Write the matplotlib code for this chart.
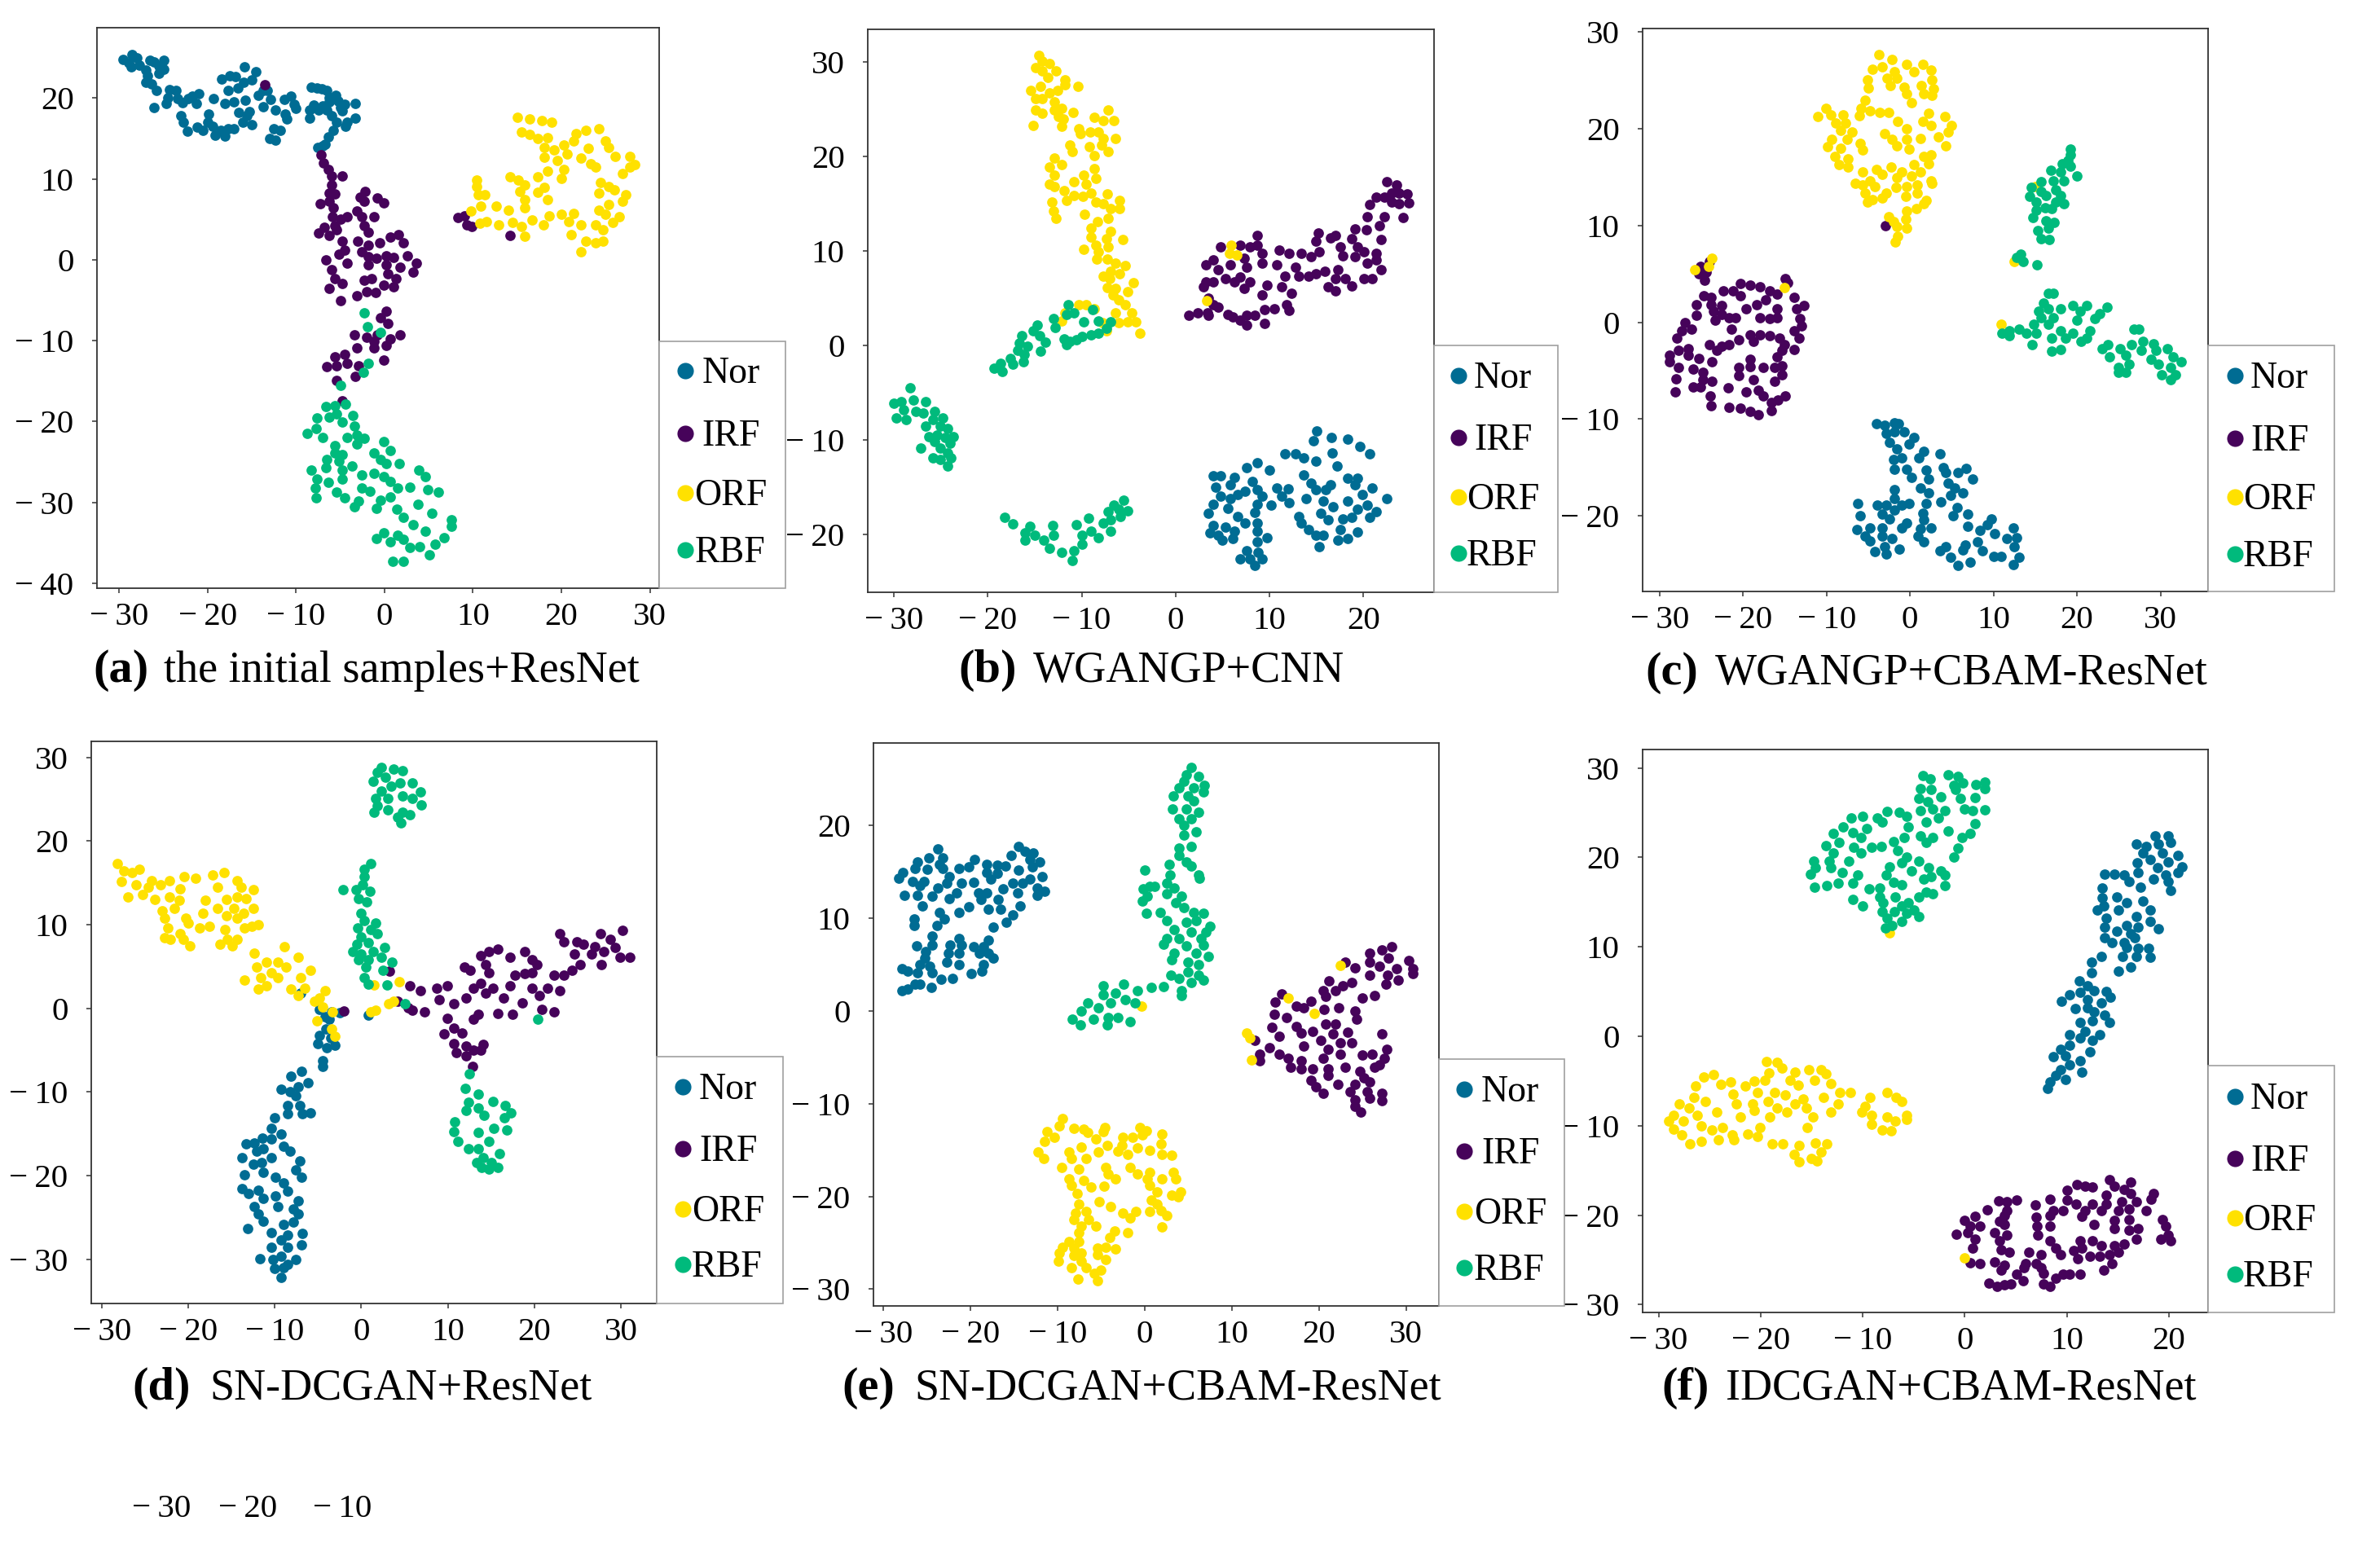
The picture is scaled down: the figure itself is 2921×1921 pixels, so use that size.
import matplotlib
matplotlib.use("Agg")
import matplotlib.pyplot as plt
from matplotlib.patches import Rectangle

plt.rcParams['font.family'] = ['Liberation Serif', 'DejaVu Serif']

W, H = 2921, 1921
class_names = ["Nor", "IRF", "ORF", "RBF"]
class_colors = ["#006c93", "#46035a", "#ffe100", "#00ba7c"]

a_nor = [(-29.5,24.8),(-28.9,24.4),(-28.5,25.4),(-28.0,25.0),(-28.6,23.9),(-27.7,24.1),(-27,23.5),(-26.5,24.7),(-26,24.5),(-25.5,24),(-24.9,24.7),(-25.5,23.1),(-24.9,23.6),(-26.8,22.8),(-27,22),(-26.3,21.8),(-25.8,20.9),(-26,18.8),(-24.5,20),(-24.3,21.1),(-23.6,21),(-23.4,19.9),(-24.7,19.3),(-22.8,19.4),(-22.2,19.9),(-21.7,20.2),(-21,20.5),(-21.3,19.3),(-23,17.8),(-22.7,17),(-22.3,15.9),(-21.2,16.4),(-20.5,16),(-20,17),(-19.9,18),(-19.4,16.5),(-19.1,15.4),(-18.5,16),(-18,15.3),(-17.7,16.2),(-17,16.2),(-19.3,19.9),(-18.4,22.4),(-17.7,21),(-17.5,22.8),(-16.8,22.7),(-16.6,21.3),(-17,19.5),(-18,19.3),(-16.5,18.2),(-15.8,23.9),(-15.9,22),(-15.7,19.7),(-15.5,17.8),(-16,17),(-15,16.7),(-15.3,18.3),(-14.5,23.3),(-15,22.3),(-14.3,20.3),(-13.7,20.9),(-13.2,21),(-12.9,19.8),(-13.7,18.9),(-12.3,18.5),(-12.5,16.2),(-13,15),(-12.3,14.8),(-11.8,16),(-11.2,18),(-11.3,19.8),(-10.6,20.2),(-10.2,19.2),(-10,18.7),(-11,17.4),(-8.3,21.4),(-7.6,21.3),(-7.1,21.2),(-6.5,21),(-6.2,20),(-5.5,20.3),(-5.2,19.6),(-4.5,19.2),(-3.3,19.3),(-5,18.8),(-6.2,19.5),(-6.5,18.5),(-7,19),(-8,19.1),(-8.5,18.5),(-8.5,17.5),(-7.4,18.5),(-6,17.8),(-4.8,18.4),(-4.2,17),(-4.4,16.5),(-3.3,17.5),(-5.4,17),(-5.8,16),(-6.3,15.2),(-6.7,14.3),(-7.5,13.9),(-7,14.1)]
a_irf = [(-7.2,13),(-6.9,12),(-6.3,11.2),(-6,10.4),(-4.8,10.4),(-6,9.3),(-6.2,8.3),(-5.6,8.1),(-7.3,6.9),(-6.2,7.2),(-5.8,6.4),(-5.9,5.3),(-4.2,5.3),(-5,5),(-5.6,4.2),(-6.8,4),(-7.4,3.3),(-6.2,3),(-5.4,3.7),(-2.7,7.7),(-2.2,8.5),(-2.3,7.2),(-3.1,6),(-2.6,5.3),(-1.2,5.3),(-2.3,4.2),(-1.8,3.4),(-3,2.3),(-.8,7.6),(-.1,7),(.7,2.8),(1.6,3.1),(2.1,2.1),(-.5,2.1),(-2.6,1),(-1.8,1.8),(-4.8,2.3),(-4.5,1.2),(-5.1,.7),(-6.6,0),(-4.2,-.4),(-1.8,.4),(-.9,.2),(.2,.5),(1,.3),(-1.8,-.6),(.2,-.6),(1.8,-.9),(2.6,.5),(3.6,-.4),(3.2,-1.5),(-6,-1.2),(-5.6,-2.3),(-4.8,-2.9),(-6.2,-3.5),(-5,-5.1),(-3.1,-4.4),(-2.3,-2.5),(-2,-3.9),(-1,-4),(-1.5,-2.3),(-.1,-3.1),(1,-3.3),(1.3,-2.3),(.4,-1.7),(.2,-6.4),(-.4,-7.2),(.4,-7.9),(-2,-9.6),(-.8,-9.3),(.2,-10.6),(1.8,-9.3),(-3.4,-9.3),(-3.1,-10.9),(-4.5,-11.7),(-5.6,-12),(-6.5,-13.2),(-5.4,-13.1),(-4.2,-12.8),(-2.9,-13.1),(-3.3,-14.4),(-5.4,-14.9),(-4.8,-17.4),(-.1,-12.4),(-1.2,-10.9),(-1.2,-10.1),(.7,-9.8),(-13.5,21.7),(8.3,5.2),(9,5.4),(9.3,4.3),(9.9,4.1),(14.2,3)]
a_orf = [(15,17.6),(16.4,17.4),(17.8,17.2),(18.9,17),(15.5,15.8),(16.4,15.5),(17.3,15),(18.4,15.1),(18.1,13.9),(19.2,13.6),(20.3,14.2),(21.4,14.7),(21.7,15.6),(22.8,16),(24.2,16.2),(25,14.7),(25.3,13.9),(23,13.8),(20.6,13.1),(18.1,12.7),(19.5,12.3),(22.2,12.6),(23.3,11.9),(26.1,12.8),(27.7,12.8),(27.7,11.5),(28.3,11.8),(26.9,10.7),(20.3,11.2),(18.4,11),(20,10.1),(23.9,11.5),(24.4,9.6),(25.3,9.1),(17.3,10.3),(14.2,10.3),(15.1,9.9),(15.9,9.3),(15.3,8.5),(17.3,8.4),(18.1,9),(10.4,9.9),(10.4,9.1),(10.6,8),(11.3,8),(15.9,7.4),(18.4,7.4),(24.2,8.3),(26,8.7),(27.3,8),(26.9,7.2),(25.3,6.8),(10.9,6.6),(12.6,6.6),(14,6.1),(9.8,6),(15.9,6.4),(24.2,6.1),(25,5.6),(26.5,5.3),(18.6,5.4),(20,5.6),(21.4,5.7),(20.8,4.7),(22.2,4.3),(23.9,4.3),(25.8,4.6),(24.7,3.7),(21.1,3.1),(22.8,2.3),(23.9,2.1),(24.7,2.3),(22.2,1),(11.5,4.7),(12.9,4.3),(14.5,4.6),(16.7,4.9),(18,4.3),(15.9,2.9),(10.8,4.5),(15.5,4.1)]
a_rbf = [(-2.3,-6.6),(-1.9,-8.3),(-.4,-9),(-1.8,-12.8),(-2.4,-13.9),(-5,-15.5),(-6.6,-18.2),(-5.6,-18.1),(-4.4,-17.9),(-7.6,-19.6),(-6.2,-19.5),(-5.4,-19.1),(-3.6,-19.3),(-7.7,-20.9),(-8.7,-21.5),(-7,-22),(-4.8,-20.1),(-3.4,-20.6),(-4.2,-22),(-3.1,-21.7),(-2.3,-22.1),(-3.1,-22.8),(-5.6,-23),(-5.6,-23.9),(-4.8,-24.1),(-6.5,-24.7),(-5.1,-24.9),(-3.7,-25.5),(-8.3,-26),(-6.6,-25.7),(-4.8,-26),(-2.6,-26.6),(-1.2,-26.4),(-7.6,-27.1),(-6.3,-27.5),(-4.8,-27.1),(-7.8,-28.2),(-7.7,-29.4),(-5.4,-28.7),(-4.5,-29.4),(-2.6,-28.2),(-1.6,-28.6),(-2.9,-29.8),(-3.4,-30.6),(-.1,-22.5),(.7,-23.6),(-1.2,-23.9),(-.4,-24.7),(.2,-25.2),(1.7,-25.2),(-.1,-26.8),(.7,-27.4),(1.5,-28.2),(2.9,-28.1),(3.9,-26),(4.6,-26.8),(4.9,-28.4),(6.1,-28.7),(-.4,-29.7),(.7,-29.3),(-.9,-30.8),(1.4,-30.9),(3.8,-30.2),(2.1,-31.9),(3.2,-32.8),(5.4,-31.4),(4.6,-33.6),(7.6,-32.2),(7.6,-33),(6.7,-34.4),(5.7,-35.2),(5.1,-36.5),(2.9,-35.6),(4,-35.5),(-.9,-34.5),(-.1,-33.8),(.7,-34.9),(1.5,-34.1),(2.1,-34.6),(.9,-37.3),(2.1,-37.3)]

b_nor = [(15,-9.1),(14.7,-10.1),(16.6,-9.8),(18.3,-9.9),(19.6,-10.7),(20.7,-11.5),(11.6,-11.5),(12.8,-11.5),(13.6,-11.9),(14.9,-12.3),(16.7,-11.4),(17.2,-12.8),(13.6,-13.7),(8.7,-12.4),(7.6,-13),(10,-13.2),(4,-13.8),(4.8,-13.8),(6.3,-14),(8.2,-14.4),(14.4,-14.6),(18.3,-14.1),(19.4,-14.1),(4.3,-15),(5.8,-14.8),(7.4,-15.5),(8.7,-15.3),(10.8,-15.1),(12,-15.2),(14.9,-15.3),(16.5,-14.8),(19.1,-14.8),(20.9,-15.1),(4.8,-16),(6.6,-15.8),(9.2,-16),(11.3,-16),(13.9,-16.2),(16,-15.3),(19.9,-15.8),(22.5,-16.2),(5.8,-16.2),(4,-16.8),(8.7,-16.8),(10.2,-16.9),(12.1,-16.7),(15.7,-16.5),(18.3,-16.5),(20.4,-16.9),(3.5,-17.8),(5.6,-17.3),(6.6,-18.1),(8.4,-17.7),(13.1,-18.1),(15.5,-17.8),(16.8,-17.1),(19.4,-17.4),(21.4,-17.6),(18.8,-18.2),(20.7,-18.2),(4,-19.1),(5.3,-19.3),(7.4,-18.8),(8.7,-18.8),(13.4,-18.8),(16.2,-18.5),(17.8,-18.4),(3.7,-19.9),(4.5,-20.1),(6.3,-19.7),(8.7,-19.7),(14.2,-19.5),(17.5,-19.5),(19.4,-19.8),(5,-20.6),(6.1,-20.5),(9.7,-20.4),(8.7,-20.8),(14.9,-20.1),(15.7,-20.1),(17.3,-20.6),(18.3,-20.5),(15.3,-21.3),(8.8,-21.9),(7.6,-21.8),(6.9,-22.6),(7.9,-22.6),(9.2,-22.6),(8.4,-23.3)]
b_irf = [(22.5,17.3),(23.5,17),(23.8,16.1),(23,16.1),(24.7,16),(21.4,15.7),(22.2,15.7),(20.7,14.9),(23,15.2),(23.8,15),(24.8,15.1),(20.4,13.6),(22.2,13.6),(24.2,13.5),(21.7,12.7),(19.1,12.3),(20.3,12.2),(18.8,11.3),(16.5,11.4),(17,11.6),(15.2,11.9),(14.9,11),(21.9,11.2),(17.5,10.4),(19.4,10.4),(15.3,9.9),(14.4,9.4),(13.4,9.7),(12.1,9.7),(17.8,9.5),(19.1,9.4),(20.1,9.9),(21.4,9.7),(21.4,9),(20.4,8.7),(21.9,8),(8.7,11.6),(8.7,10.6),(4.8,10.4),(6.9,10.6),(7.9,10.4),(11,10.1),(9.2,9.7),(7.3,9.2),(4,9),(3.2,8.5),(5.8,8.5),(7.6,8.3),(9.2,8.7),(10.8,8.5),(4.5,8),(12.8,8.3),(14.2,7.3),(13.1,7.3),(15.9,7.8),(17.3,8),(5.3,7.1),(6.9,7.2),(11.6,7.3),(14.9,7.6),(17,7.1),(18.1,7.1),(20.1,7.1),(20.9,7.1),(3.2,6.7),(4,6.7),(6.3,6.7),(7.9,6.7),(3,6.2),(7.3,6),(9.7,6.4),(16.2,6.2),(18.8,6.3),(11.3,6.2),(12.3,5.5),(17,5.8),(9.2,5.3),(3.5,5),(4,4.3),(4.5,4),(11.8,4.3),(12.1,3.7),(10.5,3.9),(9.5,3.8),(1.4,3.2),(2.4,3.4),(3.4,3.4),(5.6,3.3),(6.1,3),(6.9,2.7),(7.6,3.2),(8.4,3.2),(7.6,2.1),(9.5,2.3),(3.5,3.2)]
b_orf = [(-14.6,30.7),(-14.2,30.1),(-13.4,29.8),(-14.9,29.4),(-14.2,29.1),(-12.7,29.1),(-13.6,28.4),(-11.8,28.1),(-11.8,27.6),(-10.4,27.4),(-14.4,27.4),(-15.4,27),(-13.4,26.7),(-12.6,27),(-14.9,26.1),(-14.2,26.1),(-12.9,25.8),(-14.9,24.9),(-14.2,24.6),(-12.9,24.9),(-12.1,25.1),(-10.9,24.7),(-15.2,23.3),(-12.5,24.2),(-12,24),(-12.1,23.2),(-7.2,24.9),(-8.7,24.1),(-7.7,23.8),(-6.6,23.8),(-10.3,22.9),(-9.1,22.6),(-8.2,22.6),(-10.1,22.4),(-7.7,21.9),(-6.4,21.9),(-11.3,21.2),(-9.2,21),(-7.9,21.2),(-7.2,20.5),(-11,20.5),(-8.7,20.1),(-12.9,19.8),(-12.1,19.1),(-13.4,18.9),(-8.7,18.7),(-9.8,18),(-12.9,18),(-8.5,17.7),(-10.8,17.3),(-9.5,17.1),(-13.4,17.1),(-12.9,16.8),(-11.9,16.4),(-10.8,15.9),(-9.9,15.8),(-9,16.1),(-7.3,16),(-13.2,15.2),(-11.6,15.3),(-8.5,15.2),(-6,15.3),(-7.7,15),(-6.9,14.5),(-6,14.5),(-13,14.2),(-9.7,13.9),(-12.7,13.4),(-7.2,13.4),(-8.3,13.1),(-9,12.4),(-6.9,12.1),(-9,11.5),(-7.4,11.3),(-5.6,11.2),(-8.5,10.6),(-7.2,10.4),(-9.8,10.2),(-8.2,9.9),(-7.3,9.1),(-8.4,9.1),(-6.4,8.7),(-5.4,8.4),(-6.9,7.8),(-6,7.6),(-7.7,7.3),(-7,7.1),(-4.5,6.6),(-7.3,6.1),(-6.4,6),(-5.1,5.7),(-6.7,5.3),(-6.1,4.8),(-5.4,4.3),(-10.3,4.3),(-9.5,4.3),(-8.7,3.9),(-11.8,3.4),(-12.1,2.6),(-6.4,3.4),(-4.7,3.4),(-7.8,2.4),(-6.1,2.4),(-5.1,2.5),(-4.2,2.5),(-3.8,1.3),(-7.4,1.5),(5.9,10.6),(5.7,9.7),(6.5,9.6),(3.3,4.7)]
b_rbf = [(-11.4,4.3),(-8.8,3.8),(-11.6,3.3),(-10.8,3.4),(-9.8,2.5),(-13,2.8),(-6.9,2.5),(-8.2,2.6),(-12.8,1.9),(-14.7,2.1),(-15.2,1.5),(-7.4,1.8),(-8.2,1.3),(-9,1.1),(-16.4,1),(-14.5,1),(-10,.9),(-11.9,.7),(-11.3,.4),(-10.6,.6),(-16.6,.2),(-13.9,.3),(-11.6,.1),(-15.8,-.1),(-14.4,-.6),(-16.8,-.5),(-16.1,-1),(-17.6,-1.4),(-16.2,-1.7),(-18.6,-1.9),(-17.3,-2),(-19.3,-2.4),(-18.5,-2.8),(-28.3,-4.5),(-30,-6.1),(-29.2,-6),(-27.9,-5.8),(-26.6,-6),(-29.7,-7.7),(-28.7,-7.9),(-29,-6.8),(-27.7,-7),(-26.9,-7.2),(-25.7,-7),(-24.8,-7.7),(-26.6,-8.6),(-25.8,-7.9),(-25.1,-8.6),(-24.3,-8.8),(-26.3,-9.7),(-25.4,-9.5),(-23.7,-9.7),(-24.5,-9.8),(-25.7,-10.2),(-24,-10.4),(-27.1,-10.9),(-25.1,-10.9),(-24.3,-11.4),(-25.8,-11.9),(-23.9,-11.9),(-25.1,-12.1),(-24.3,-12.8),(-18.2,-18.2),(-17.3,-18.9),(-15.5,-19.2),(-16,-19.9),(-13.1,-19.1),(-15,-20.1),(-16,-20.6),(-14,-20.6),(-13,-20.1),(-13.4,-21.5),(-12.1,-21.9),(-11,-22.8),(-10.8,-21.8),(-10,-21.1),(-10.6,-19),(-10,-20.1),(-9.3,-18.3),(-9,-19.7),(-8.2,-20.4),(-7.7,-18.8),(-6.9,-18.5),(-6.9,-19.7),(-7.2,-17.6),(-6.6,-16.9),(-5.9,-18.1),(-5.5,-16.4),(-5.1,-17.5),(-6.1,-17.4)]

c_nor = [(-4,-10.5),(-3,-10.6),(-1.9,-10.4),(-1.4,-10.5),(-1.9,-11.3),(-2.8,-11.5),(-.7,-11.3),(.5,-11.9),(-2.5,-12.4),(-.1,-12.6),(-1.6,-13.1),(1.6,-13.3),(3.6,-13.6),(-2,-14.2),(-1,-14),(1.1,-14),(-1.9,-15.2),(-.4,-15.2),(1.9,-15.3),(4,-15),(6.7,-15.1),(.2,-16),(2.2,-16.2),(4.3,-15.5),(5.7,-15.5),(7.5,-16.2),(4.6,-16.6),(1.3,-17.1),(5.4,-17.1),(-1.9,-17.3),(2.2,-17.6),(6.3,-17.6),(4.9,-17.9),(-1.9,-18.2),(1.9,-18.7),(3.7,-18.5),(-6.3,-18.7),(-3.9,-18.9),(-2.8,-18.9),(-.1,-18.7),(-1,-18.9),(5.6,-19.1),(-6,-20),(-3.3,-19.8),(-1.9,-19.4),(1.5,-19.7),(5.2,-20),(6.9,-19.8),(1.6,-20.4),(9.7,-20.3),(-2.5,-20.3),(-.4,-20.7),(6.9,-21.1),(9.3,-20.9),(-6.4,-21.4),(-4.8,-21.2),(-3.3,-21.2),(-1,-21.2),(1.3,-21.3),(2.5,-21.2),(8.4,-21.5),(12.4,-21.2),(-5.4,-22.1),(-3.3,-22.1),(-2.2,-22.3),(1,-22.1),(10.1,-21.8),(11.6,-22.3),(12.8,-22.2),(-4.8,-22.6),(1.6,-22.7),(4.3,-23.2),(6.6,-23),(8.1,-22.7),(-3,-23.2),(-1.3,-23.4),(-4.2,-23.7),(-2.8,-23.9),(3.6,-23.6),(6.3,-23.5),(8.7,-23.6),(12.5,-23.2),(4.9,-24.3),(10,-24.2),(10.9,-24.2),(13.1,-24.3),(7.2,-24.8),(5.7,-25.1),(12.4,-25)]
c_irf = [(-24,6.3),(-25.1,5.8),(-24.4,5.2),(-25.3,5),(-24.6,4.3),(-14.9,4.5),(-14.7,4.1),(-20.3,4),(-19.1,3.8),(-18,3.7),(-22.4,3.2),(-21.2,3.2),(-16.8,3.2),(-15.9,2.9),(-24.7,2.7),(-23.8,2.6),(-13.9,2.6),(-20.3,2.7),(-25.6,1.8),(-23.8,1.8),(-22.6,1.7),(-17.3,2.3),(-18.4,1.8),(-19.6,1.4),(-15.9,1.4),(-13.6,1.4),(-12.7,1.7),(-23.5,1.1),(-25.6,.7),(-22.6,.8),(-21.7,.5),(-20.9,.5),(-18,.5),(-16.8,.4),(-15.9,.5),(-13.2,.4),(-27,0),(-23.3,.2),(-13,-.4),(-26.2,-.7),(-21.4,-.7),(-27.3,-.9),(-13.9,-.9),(-27.9,-1.6),(-19.1,-1.3),(-18,-1.3),(-16.8,-1.4),(-15.6,-1.6),(-13.3,-1.6),(-20.5,-1.8),(-21.7,-2.3),(-24,-2.3),(-22.6,-2.5),(-18.8,-2),(-15,-2.3),(-13.9,-2.8),(-27.7,-2.9),(-26.6,-2.7),(-23.1,-2.9),(-15.3,-2.9),(-28.8,-3.4),(-26.6,-3.4),(-28.8,-4.1),(-25.3,-3.7),(-19.1,-3.8),(-15.9,-3.6),(-23.7,-4.1),(-15.3,-4.5),(-27.7,-4.7),(-26,-4.8),(-20.5,-4.7),(-19.1,-4.6),(-17.6,-4.7),(-16.2,-4.7),(-24.8,-5.2),(-15.3,-5.4),(-28,-5.8),(-24.8,-5.9),(-23.7,-6.1),(-20.5,-5.5),(-18.8,-5.9),(-16.2,-6.1),(-26,-6.7),(-25.1,-6.7),(-21.8,-6.8),(-28.1,-7.2),(-19.6,-7.2),(-18.2,-7),(-14.9,-7.6),(-17.6,-7.6),(-23.9,-7.6),(-15.8,-8),(-23.8,-8.6),(-16.6,-8.3),(-21.7,-8.8),(-20.3,-8.9),(-19.1,-9.2),(-18.2,-9.5),(-16.6,-9.1),(-2.9,10)]
c_orf = [(-3.7,27.6),(-2.2,27.1),(-4.5,26.1),(-3.3,26.4),(-1.9,25.9),(-.4,26.6),(1.5,26.6),(2.5,26),(.5,25.9),(-5.1,25),(-2.7,25.2),(-1.6,25.2),(2.6,25),(-5,24.2),(-2.4,24.4),(-.7,24.3),(1.4,24.4),(2.8,24.1),(-.4,23.6),(1.6,23.6),(2.6,23.4),(.2,22.7),(-5.4,22.9),(-5.9,22.1),(-4.8,21.8),(-3.6,21.7),(-2.6,21.7),(-10.1,22.1),(-11,21.2),(-9.5,21.4),(-8,21.4),(-6.1,21.3),(2.2,21.6),(4.2,21.2),(-8.9,20.6),(-7.7,20.6),(-1.5,20.7),(1.5,20.7),(5,20.3),(-8.3,19.8),(-6.9,19.6),(-3,19.5),(-.4,20),(2.5,20.3),(4.6,19.6),(-9.4,18.9),(-7.5,18.9),(-6,18.5),(-2.2,18.9),(-.4,18.9),(1.3,19),(3.4,19.1),(-9.9,18.1),(-8.3,18),(-5.7,17.8),(-1.6,18.2),(-.1,17.9),(4.3,18.2),(-9,17.1),(-7.4,16.9),(2.5,17.3),(1.6,17.1),(-8.5,16.3),(2.2,16.4),(-7.4,16),(-2.3,16),(.5,16.3),(-5.7,15.5),(-4,15.8),(-1,15.5),(1.3,15.5),(-3.3,15.3),(-6.6,14.3),(-4.8,14.6),(-1.6,14.9),(.2,15.1),(2.5,14.6),(-5.7,14.2),(-4.2,14),(-1.7,13.9),(-.4,14),(.9,14.2),(2.6,14.3),(-5.4,13.3),(-2.8,13.3),(-.5,13),(.9,13.3),(-4.5,12.7),(-3.3,12.8),(1.9,12.6),(-5.1,12.4),(.8,11.7),(1.6,12.2),(-.4,11.5),(-2.6,10.9),(-.5,10.6),(-2,10.4),(-1.6,9.9),(-.4,9.7),(-1.5,8.9),(-1.8,8.3),(-23.7,6.6),(-24.1,5.8),(-25.8,5.4),(-15,3.6),(15,14),(12.5,6.3),(10.9,-.2)]
c_rbf = [(19.2,17.9),(19.2,17.3),(18.9,16.7),(18.2,16.4),(19.2,16.1),(16.9,15.7),(18,15.5),(20,15.1),(17.2,14.6),(18.4,14.6),(15.7,14.5),(14.5,13.9),(17.5,13.7),(15.7,13.5),(14.3,13),(16.3,13.1),(18,13.1),(15.1,12.4),(17.5,12.4),(18.4,12.2),(16.2,11.8),(17,11.7),(15.1,11.6),(14.7,10.8),(16.3,10.5),(17.3,10.3),(15.3,9.5),(16.6,9.7),(15.7,8.6),(16.7,8.5),(13.3,7),(12.8,6.7),(13.6,6.3),(15.2,5.9),(16.6,3),(17.2,3),(16,2),(15.4,1.1),(16.6,1.4),(18,1.4),(19.5,1.7),(21.2,1.7),(23.6,1.6),(22.7,.9),(20.4,1.1),(22.1,.4),(15.7,.5),(17.2,.5),(20,.2),(14.8,-.2),(16.6,-.2),(13.1,-.7),(11.9,-.9),(11,-1.1),(13.9,-1.1),(15.1,-1.1),(18,-.9),(19.5,-1.1),(21.6,-.9),(11.9,-1.4),(17,-1.6),(18.6,-1.6),(21.2,-1.6),(20.5,-2),(14.6,-2.3),(18,-2.8),(17,-3),(26.8,-.7),(27.4,-.7),(23.7,-2.3),(23,-2.7),(25.2,-2.7),(26.5,-2.3),(27.9,-2),(29.2,-2.2),(23.9,-3.6),(25.9,-3.4),(27.7,-2.9),(29.5,-2.9),(30.8,-2.7),(25,-4.7),(26.2,-4.3),(28.9,-3.8),(31.5,-3.6),(32.5,-4.1),(25,-5.2),(25.9,-5.2),(29.8,-4.3),(31.2,-4.7),(30.1,-5.4),(31.8,-5.4),(31.2,-5.9)]

d_nor = [(-3.4,-.4),(-4.8,-.1),(-4.2,-1),(-3.7,-1.3),(-2.5,-.5),(-4.1,-2.5),(-4.8,-3.2),(-3.5,-3.5),(-5,-4.2),(-4,-4.7),(-3.1,-4.4),(-4.5,-6.3),(-4.5,-6.9),(.8,-.8),(-6.9,-7.5),(-8.1,-8.1),(-6.2,-8.9),(-7.3,-9.4),(-9.3,-9.7),(-8.2,-10),(-7.6,-10.4),(-8.5,-11.6),(-7.1,-11.6),(-5.9,-12.5),(-8.5,-12.6),(-6.8,-12.6),(-10,-13.1),(-10.4,-14.3),(-9.3,-15),(-11.4,-15.5),(-10.4,-15.6),(-13.3,-16.2),(-12.4,-16.1),(-11.3,-16.8),(-9,-16.5),(-8.2,-17.1),(-13.8,-17.8),(-12.1,-17.1),(-10.4,-17.8),(-7.1,-18.2),(-12.5,-18.6),(-11.5,-18.4),(-7.6,-19.3),(-13.5,-19.9),(-11.3,-19.6),(-6.9,-20.2),(-9.9,-20.2),(-9,-20.9),(-13.8,-21.5),(-11.9,-21.7),(-8.5,-21.8),(-13,-22.1),(-9.9,-22.4),(-11.3,-22.7),(-7.3,-23),(-12.4,-23.7),(-9.6,-23.7),(-7.9,-24),(-11.9,-24.6),(-7.3,-24.6),(-11.3,-25.4),(-7.9,-25.5),(-9,-25.8),(-13.1,-26.3),(-10.4,-26.8),(-6.8,-26.9),(-8.5,-27.1),(-9.3,-27.7),(-6.9,-28.3),(-10.4,-28.6),(-8.5,-28.6),(-11.7,-29.9),(-10.2,-30),(-9.3,-29.6),(-7.6,-30),(-8.5,-30.6),(-10,-31.1),(-9,-31),(-9.3,-32.2),(-7,1.8)]
d_irf = [(22.9,8.9),(23.4,8),(24.9,8),(27.6,8.9),(30.2,9.3),(28.8,8.3),(25.7,7.7),(27,7.4),(29.3,7.3),(24.6,6.5),(26.6,6.5),(28,6.8),(31,6.1),(29.9,6.1),(25.3,5.2),(27.7,5.2),(24.3,4.6),(23.4,4),(22.3,4),(15.8,7.1),(14.7,6.8),(18.9,6.8),(13.8,6.3),(17.2,6.1),(19.7,5.8),(11.9,4.9),(14.4,5.2),(20.3,5.2),(14.7,4.3),(12.6,4.6),(19.7,4.3),(17.8,4),(18.9,4.2),(13.8,3),(13,2.4),(21.5,2.4),(19.7,2.4),(15.2,2.4),(17.2,2.7),(22.9,2.1),(9.9,2.7),(8.7,2.4),(14.4,1.8),(12.1,1.2),(5.6,2.7),(6.8,2.1),(20.6,1.5),(18.6,.7),(16.4,1.2),(9,1.1),(4.2,.9),(10.7,.6),(5.4,.1),(22.3,-.4),(20.9,-.1),(7.3,-.4),(15.8,-.6),(17.5,-.7),(5.9,-.2),(13.5,-.7),(9.9,-1.2),(13,-1.3),(10.7,-2.4),(9.6,-3),(11.6,-2.9),(10.7,-4.2),(14.1,-4.3),(12.1,-4.5),(11,-5.3),(13,-5),(12.1,-5.7),(13.8,-5),(12.9,-6.9),(3.3,4.5),(-2,-.3)]
d_orf = [(-28.2,17.3),(-27.4,16.4),(-25.7,16.6),(-26.5,16.2),(-27.7,15.2),(-24.2,15.3),(-22.2,15.3),(-20.5,15.8),(-19.2,15.6),(-17.2,16),(-15.9,16.2),(-14.4,15.3),(-26,14.8),(-24.6,14.5),(-23.2,14.8),(-20.9,14.3),(-16.6,14.5),(-13.9,14.5),(-12.5,14.2),(-27,13.3),(-25.3,13.6),(-23.9,13),(-22.2,13.3),(-21,12.9),(-14.4,13.3),(-13.3,13.1),(-18,12.9),(-23,11.7),(-21.6,12),(-15.6,13),(-16.6,12),(-14.7,12),(-12.5,12),(-18.3,11.4),(-13.6,11.4),(-15.6,11.1),(-14.4,10.8),(-22.7,10.8),(-20.3,10.8),(-20,10.2),(-18.7,9.6),(-17.6,9.8),(-22.4,9.6),(-15.8,9.4),(-13.5,9.6),(-11.9,10),(-12.7,9.8),(-22.7,8.5),(-20.9,8.9),(-22.1,8.3),(-20.6,8.3),(-15.5,8.3),(-14.4,8.3),(-16.3,7.7),(-14.9,7.5),(-19.8,7.5),(-8.9,7.4),(-12.4,6.6),(-7.3,6.1),(-11,5.5),(-9.6,5.5),(-12.1,4.9),(-8.7,4.9),(-5.9,4.6),(-10.4,4.3),(-13.5,3.4),(-11.6,3.7),(-9.6,3.7),(-7,3.7),(-11.9,2.3),(-11,2.7),(-8.1,2.3),(-6.5,2.4),(-7.3,1.5),(-4.2,2.1),(-4.8,1.2),(-5.4,.9),(-4.5,.2),(-3.3,-.4),(-5.1,-1.5),(-3.4,-2.5),(-3.1,-3.3),(1.5,2.8),(4.4,3.2),(1.1,-.4),(1.7,-.2),(3.2,.6),(3.7,.9)]
d_rbf = [(2.3,28.8),(1.8,28.2),(3.7,28.6),(4.8,28.4),(1.4,27.2),(2.8,27.6),(4.5,27),(5.9,27),(3.4,26.6),(2.3,26),(6.8,25.9),(4.8,25.4),(1.7,25.1),(3.1,25.1),(5.9,25.1),(6.9,24.3),(1.8,24.2),(1.5,23.5),(3.1,23.7),(4.8,23.5),(5.6,23.2),(4.2,22.9),(4.6,22.2),(1.1,17.3),(.3,16.6),(.3,15.8),(.1,14.8),(-2.1,14.2),(-.6,14.2),(1,14),(-.3,13.1),(.6,12.7),(0,11.4),(.3,10.5),(1.7,10.2),(-.4,9.6),(1.1,9.4),(1.8,8.9),(0,8.6),(-.5,7.7),(.8,7.9),(-1,6.8),(0,6.5),(1.4,6.8),(2.7,7.3),(-.3,5.8),(.8,5.8),(2.3,6.1),(.5,4.9),(3.5,5.5),(2.5,4.6),(.3,3.7),(.8,2.9),(3,2.8),(5,.6),(20.4,-1.3),(12.5,-7.8),(12,-9.6),(13.5,-10.2),(12.4,-11.2),(13.5,-11.9),(15.2,-11.1),(16.6,-11.6),(17.3,-12.5),(12.1,-12.2),(14.2,-12.8),(16.5,-13.1),(10.8,-13.6),(15.3,-14.3),(16.8,-14.5),(10.7,-14.7),(13.5,-14.8),(11.2,-15.9),(14.7,-15.9),(12.4,-16.8),(13.5,-16.8),(16,-17.4),(14.1,-17.8),(13.3,-18.4),(15,-18.4),(15.8,-19),(14.7,-19.2),(13.9,-19)]

e_nor = [(-14.5,17.7),(-23.7,17.4),(-13.7,17.2),(-12.8,17),(-15.3,16.7),(-24.8,16.5),(-23.2,16.5),(-13.2,16.3),(-12.1,16),(-26.1,16),(-19.5,16.3),(-23.6,15.8),(-18.1,15.8),(-16.9,15.7),(-16,15.6),(-12.9,15.5),(-26.4,15.3),(-21.3,15.3),(-20.2,15.5),(-25,15.2),(-23.2,15.3),(-14.5,15.1),(-18.1,14.9),(-16.9,14.8),(-27.8,14.9),(-28.2,14.3),(-26.6,13.9),(-25.3,13.9),(-22.4,14.4),(-13.2,14.2),(-11.8,14.4),(-17.7,14.2),(-21,13.7),(-19.6,13.8),(-25.8,13.5),(-22.7,13.7),(-15.1,13.7),(-14,13.7),(-23.7,13.2),(-12.3,13.2),(-11.5,12.9),(-21.6,12.7),(-18.1,12.7),(-16.3,13.1),(-19.1,12.7),(-27.6,12.4),(-26.1,12.4),(-12.3,12.4),(-24.4,12.3),(-22.4,12.1),(-14.6,12.7),(-18.8,12),(-16.8,12),(-25.5,11.3),(-14.3,11.3),(-20.2,11.2),(-21.3,10.6),(-17.9,10.9),(-16.5,10.9),(-15.1,10.3),(-23.6,10.6),(-26.5,9.9),(-23,9.9),(-15.9,9.5),(-26.5,9.2),(-23.8,9.2),(-17.4,9),(-24.4,8),(-21.3,7.8),(-17.9,7.6),(-26.2,7),(-24.4,7.1),(-22.3,7.1),(-21,7.1),(-19.6,6.9),(-18.5,6.9),(-25.1,6.4),(-22.5,6.2),(-21.3,6.2),(-19,6.2),(-17.9,6.2),(-25.2,5.7),(-17.4,5.7),(-22.7,5.2),(-21.3,5),(-18.5,5),(-25.8,5),(-24.7,4.8),(-27.9,4.5),(-26.1,4.1),(-24.4,4.1),(-19.9,4),(-18.7,4.3),(-27.2,4.3),(-22.1,3.5),(-23.4,3.4),(-25.8,2.9),(-24.5,2.5),(-27.2,2.3),(-27.9,2.2),(-26.4,2.9)]
e_irf = [(28.3,6.9),(27.2,6.5),(23,5.2),(25.8,6.2),(28,5.7),(30.3,5.4),(24.1,4.6),(25.8,5.2),(26.9,4.8),(28.9,4.5),(30.8,4.5),(25.8,3.8),(27.9,3.8),(30.8,4),(29.1,3.3),(27.7,2.9),(21.1,3.2),(23.8,3),(22.7,2.7),(20.5,2.2),(21.9,2.2),(26.4,1.6),(25,1.4),(15.7,1.8),(20.8,1.5),(15,.9),(19.1,1),(17.4,.5),(22.3,.3),(24.1,0),(18.2,.3),(14.9,-.4),(16.3,-.7),(20.6,.1),(24.3,-.9),(20.8,-1.4),(21.9,-1.4),(17.4,-1.7),(23.3,-2.3),(27.2,-2.5),(14.6,-1.8),(19.3,-2.2),(18,-2.4),(21.6,-2.5),(15.4,-2.8),(18.2,-3.8),(12.6,-3.2),(20.2,-3.2),(22.4,-3.5),(14.3,-4),(23.8,-3.5),(27.8,-4.2),(13.2,-4.7),(15.4,-4.7),(21,-4.2),(25,-4.8),(22.4,-4.7),(26.1,-4.7),(16.5,-5.1),(27.5,-5.1),(13.2,-5.4),(18,-5.4),(20.5,-5.1),(26.9,-5.8),(16.7,-6.1),(23,-6.1),(19.3,-6.3),(21,-6.3),(18,-6.3),(24.7,-6.5),(26.4,-6.1),(21,-7),(19.1,-7.5),(25.2,-7.2),(22.2,-7.9),(24.1,-7.9),(25.8,-7.7),(19.6,-8.2),(20.5,-8.9),(23.6,-8.7),(25.5,-8.7),(27.2,-8.9),(24.1,-9.6),(25.8,-9.4),(27.2,-9.7),(24.1,-10.3),(24.8,-10.9)]
e_orf = [(22.4,4.9),(16.5,1.4),(19.5,-.3),(-.4,.5),(11.7,-2.4),(12.1,-2.9),(12.3,-5.3),(-9.4,-11.6),(-9.8,-12.4),(-7,-12.8),(-8.1,-12.7),(-4.6,-12.6),(-.6,-12.6),(-11.2,-13),(-6.5,-13.1),(-4.8,-13),(.2,-12.9),(2,-13.3),(-.3,-13.4),(-10.4,-13.6),(-2.5,-13.6),(-11.5,-14.1),(-5.6,-13.8),(-1.4,-13.6),(-7.3,-14.7),(-4.3,-14.5),(-2.6,-14.5),(-.8,-14.8),(1.9,-14.3),(-12.2,-15.2),(-8.7,-15.2),(-5.3,-15.2),(-3.1,-15.1),(.6,-15),(-2,-15.5),(2,-15.5),(-11.6,-15.9),(-8.4,-15.9),(-6.7,-15.9),(3.1,-15.6),(-9.5,-16.9),(-7.6,-17.1),(-4.5,-16.9),(-1.7,-16.9),(-8.7,-18.1),(-4.2,-17.6),(-.8,-17.6),(.6,-17.4),(3.3,-17.4),(-3.4,-18.1),(.3,-18.1),(2,-18.1),(3.6,-18.1),(-7,-18.3),(-8.4,-18.8),(-4.7,-18.9),(-6.2,-19),(.6,-18.8),(4.1,-19.5),(-7.8,-19.7),(1.4,-19.5),(3.1,-19.9),(3.8,-20),(.8,-20.4),(-5.2,-20.6),(-7.6,-20.8),(1.4,-20.8),(-3.9,-21.1),(-1,-21.6),(-7.9,-21.8),(-6.7,-21.6),(-2.5,-21.8),(.6,-21.6),(1.9,-21.5),(2.5,-22.1),(-1.7,-22.3),(-8.1,-22.5),(-6.4,-22.5),(-5.6,-23.2),(-7.3,-23.2),(2,-23.3),(-3.5,-23.7),(-2,-23.9),(-7.6,-23.9),(-4,-24.4),(-8.7,-24.9),(-7.6,-24.9),(-9.4,-25.5),(-8.1,-25.6),(-5.4,-25.6),(-4.5,-25.5),(-3.4,-25.7),(-9.8,-26.1),(-7.3,-26.1),(-5.4,-26.3),(-8.1,-26.4),(-4.5,-26.8),(-9.9,-27),(-7.3,-27),(-8.4,-27.7),(-6.7,-27.7),(-5,-27.9),(-7.7,-28.9),(-5.4,-29.1),(-5.8,-28.3)]
e_rbf = [(5.3,26.2),(4.8,25.4),(6.2,25.2),(4.5,24.7),(6.8,24.3),(3.9,24),(5.6,24),(3.3,23.1),(5,23.1),(6.7,23.6),(5.6,22.6),(3.2,21.7),(4.8,21.7),(6.2,21.4),(3.9,20.7),(5.3,20.7),(4.5,20),(5.9,19.3),(4.5,18.9),(3.9,17.5),(5.3,17.7),(3.9,16.7),(2.8,15.8),(4.8,16),(5.3,15.6),(6.2,14.6),(6.3,14.3),(0,15.1),(2.9,14.6),(.6,13.4),(2.5,13.7),(-.2,13.1),(1.1,13.4),(3.4,13.2),(2.5,12.6),(-.3,11.8),(.3,12.3),(4.2,12.3),(3.6,11.6),(4.5,11.1),(.2,10.5),(1.8,10.6),(5.6,10.6),(6.7,10.5),(2.5,9.7),(4.8,9.5),(5.9,9.7),(7.5,9.1),(3.4,8.7),(5.3,8.5),(7,8.5),(2.5,7.8),(3.9,7.8),(6.5,7.8),(2.2,7.2),(4.8,7),(6.7,7.1),(3.4,6.2),(5.9,6.2),(7.3,5.8),(3.1,5.5),(5,5.2),(6.2,5),(5,4.2),(6.2,3.8),(3,3.8),(3.9,3.5),(6.7,3.3),(5.3,3),(.8,2.5),(2.2,2.6),(-4.8,2.7),(-2.4,2.9),(-.8,2.2),(4.2,2.2),(4.2,1.6),(-3.4,1.9),(-4.8,1.7),(-6.5,.8),(-3.9,.8),(-2.2,1.2),(-1.1,.8),(-7.3,0),(-5.3,.3),(-3.1,-.7),(-8.3,-.9),(-5.9,-.9),(-4.2,-.7),(-7.4,-1.5),(-4.3,-1.5),(-1.7,-1.2)]

f_nor = [(18.7,22.4),(19.9,22.4),(16.8,21.5),(17.8,21.2),(19,21.5),(20.2,21.7),(17.5,20.5),(19.4,20.5),(20.9,20.2),(16.9,19.4),(18.2,19.8),(19.9,19.5),(21.3,18.9),(18.9,18.8),(17,18.3),(13.7,18.1),(14.7,18.1),(15.6,18),(19.7,18),(20.9,18.3),(16.1,17.3),(18.5,17.6),(19.9,17.3),(13.5,16.6),(17.2,16.7),(20.2,16.3),(13.5,15.5),(14.9,15.6),(17.5,15.1),(13.6,14.6),(15.9,14.9),(13,14.1),(15.1,14.1),(18.2,14.1),(13.9,13.2),(16.8,13.4),(18.2,12.8),(19,12),(15.9,12.4),(13.7,12.2),(17,12.2),(14.9,11.7),(16.3,11.5),(13.7,11),(14.4,10.5),(15.6,10.5),(16.7,11),(15.9,9.9),(17,9.8),(18,9.8),(16.8,8.9),(15.5,8.9),(18.2,8.8),(13.4,8.9),(12.4,8.3),(16.3,7.7),(15.1,7.3),(12.4,7.1),(11.2,6.2),(12,5.6),(13.9,5),(10.3,4.6),(11.3,4.9),(12.7,5.1),(14.3,4.4),(9.5,3.9),(12,4.1),(13.4,3.7),(10.8,3.1),(12,3.2),(12.7,2.7),(13.7,2.4),(11.3,1.5),(14.2,1.5),(12.5,1.7),(10.3,.2),(11.8,.5),(13.2,.2),(12.5,-.5),(11.3,-.2),(9.4,-1.5),(10.3,-1),(12.3,-1.7),(8.7,-2.3),(9.9,-2.2),(11.3,-2.7),(10.3,-3.2),(9.4,-3.7),(11.5,-4),(8.9,-4.4),(9.9,-4.8),(8.4,-5.1),(8.1,-5.8)]
f_irf = [(14.2,-16),(11,-16.6),(16.3,-16.3),(11.8,-16.8),(14.7,-16.8),(10,-17.2),(12.5,-16.9),(15.6,-17.1),(18.5,-17.6),(8.4,-18.2),(10,-18.3),(13.9,-17.8),(16.3,-17.6),(18.3,-18.2),(3.3,-18.4),(4.1,-18.5),(5.1,-18.3),(10.9,-18.8),(12.5,-18.8),(13.9,-18.8),(15.4,-18.5),(16.8,-18.5),(6.9,-18.9),(2.2,-19.4),(4.1,-19.5),(8.7,-19.5),(9.6,-19.5),(11.8,-19.5),(13.4,-19.5),(15.1,-19.5),(17.8,-19.5),(16.1,-19.3),(8.4,-20),(11.5,-20.1),(14.7,-20.6),(1,-20.1),(3.9,-20),(7,-20.2),(19.4,-20.5),(0,-20.6),(3.4,-20.7),(12.7,-21),(16.1,-20.5),(.5,-21.2),(1.5,-21.2),(3.9,-21),(7.1,-21.2),(8.4,-21.2),(19.7,-21.2),(14.7,-21.5),(17,-21.5),(-.8,-22.1),(.3,-22),(2.9,-22),(4.1,-22.2),(16.1,-21.7),(7.2,-22.2),(19.9,-22.2),(1,-22.7),(3.4,-22.9),(8.4,-22.9),(11.3,-22.9),(12.5,-22.9),(16.8,-22.7),(19.2,-22.7),(20.2,-22.9),(15.6,-23.2),(.8,-23.7),(3.6,-23.9),(8.9,-23.7),(11.5,-23.7),(13.4,-23.4),(14.7,-23.4),(6.3,-24.1),(4.4,-24.1),(7.5,-24.4),(9.4,-24.4),(10.7,-24),(11.1,-24.9),(12.3,-24.6),(13.2,-24.6),(14.2,-24.4),(15.1,-24.1),(.5,-25.3),(1.5,-25.4),(2.9,-25.2),(3.9,-25.6),(6,-25.4),(7,-25.4),(14.4,-25.4),(3.6,-26.1),(5.8,-25.9),(7.5,-25.9),(9.6,-26.6),(10.3,-26.6),(11.3,-26.6),(13.6,-26.1),(5.1,-26.6),(7.7,-26.5),(5.7,-27.3),(8.9,-27.1),(2.4,-27.6),(4.5,-27.7),(3.2,-28),(3.9,-27.8),(7.7,-27.7),(8.4,-28)]
f_orf = [(-7.4,11.6),(0,-24.8),(-19.4,-2.8),(-18.4,-2.9),(-17.9,-3.6),(-15.3,-3.7),(-14.1,-3.7),(-24.6,-4.3),(-25.6,-4.6),(-19.2,-4.1),(-16.6,-4),(-13.6,-4.2),(-23.9,-5.4),(-22.9,-5.1),(-20.6,-5),(-19.6,-4.9),(-17.1,-4.9),(-14.7,-4.9),(-26.4,-5.6),(-21.5,-5.6),(-16.3,-5.5),(-13.1,-5.3),(-11.2,-6.3),(-22.7,-6.5),(-20.3,-6.3),(-18.6,-6.3),(-17.6,-6.6),(-12.2,-6.3),(-7.6,-6.3),(-9.3,-6.8),(-6.7,-6.8),(-26.5,-6.8),(-25.4,-7.3),(-28,-7.6),(-22.4,-7.6),(-20.8,-7.6),(-19.3,-7.3),(-16.6,-7.6),(-15.8,-7),(-13.8,-6.8),(-12.4,-7.6),(-9.8,-7.8),(-6.2,-7.3),(-27,-8),(-24.3,-8.5),(-20.6,-8.3),(-18.4,-8),(-17.4,-8.5),(-15.5,-8),(-13.1,-8.5),(-10.1,-8.5),(-28.5,-8.8),(-26.2,-8.8),(-9.1,-8.8),(-5.7,-8.8),(-7.6,-9),(-22,-9),(-19.1,-9),(-14.9,-9),(-29,-9.5),(-27.6,-9.5),(-5.7,-9.3),(-6.8,-9.5),(-9.1,-9.8),(-25.8,-10),(-23.7,-10.2),(-20.1,-10.2),(-15.4,-10.2),(-28.5,-10.4),(-24.8,-10.5),(-8.1,-10.5),(-7.2,-10.6),(-27.7,-11),(-22.8,-11),(-21.3,-10.9),(-20.3,-11.2),(-25.8,-11.8),(-24.1,-11.6),(-26.9,-12),(-22.6,-11.6),(-18.9,-12),(-17.8,-12),(-16.2,-12.2),(-14.6,-11.9),(-13.5,-12),(-16.7,-13.2),(-14.1,-12.9),(-15,-13.7),(-16.2,-14),(-14.5,-13.9)]
f_rbf = [(-4.1,29.1),(-1.6,29.2),(-3.4,28.8),(-.7,29),(-1.1,28),(-.2,28.3),(2,28.4),(1.1,28.1),(-4.3,27.7),(2,27.7),(-3.3,27.6),(-.9,27.6),(-2.3,26.8),(-.4,26.6),(1,26.7),(-4.5,26.6),(-3.6,26.2),(0,25.4),(2,25.3),(-1.9,25.2),(-4.3,25.2),(-3.1,25.4),(.8,25.2),(-7.6,25.1),(-6.4,25),(-5.7,24.6),(-11.1,24.4),(-10,24.6),(-8.6,24.4),(-2.6,24.4),(-3.8,23.9),(1,23.8),(-5.5,23.4),(-9.6,23.2),(-11.9,23.4),(-8.1,23.9),(-1.6,22.9),(.5,22.7),(-12.9,22.7),(-11,22.8),(-4.3,22.4),(-3.1,22.2),(-.3,22.2),(-7,21.8),(-5.9,22.2),(-10.2,22.2),(-13.6,21.3),(-12.3,21.7),(-3.8,21.7),(-10.9,21.1),(-9.1,21.1),(-8.2,21.2),(-6.6,20.8),(-.7,21),(-12.9,20.5),(-1.1,20),(-10.2,20.5),(-5.7,20),(-14.8,19.6),(-13.3,19.6),(-11.4,19.6),(-4.5,19.6),(-6.2,19.4),(-7.4,18.9),(-14.6,18.8),(-13.1,18.8),(-5.2,18.5),(-3.5,18.8),(-2.3,18.5),(-15.1,18.1),(-12,18.3),(-10.5,18),(-7.7,18),(-3.3,17.8),(-1.9,18),(-4,17.6),(-14.7,16.7),(-13.5,16.8),(-12.4,17.1),(-11,17.1),(-7,17.2),(-6.2,16.9),(-1.9,16.8),(-9.4,16.5),(-8.3,16.6),(-3.8,16.1),(-3.1,15.9),(-8.3,15.6),(-6.8,15.6),(-4.5,15.6),(-11,15.3),(-10,14.6),(-8,14.9),(-5.5,14.9),(-6.2,14.6),(-8.1,13.9),(-6.9,13.9),(-5,14.1),(-5.7,13.7),(-4.5,13.4),(-7.6,13.2),(-6.2,12.8),(-7.1,12.4),(-7.8,12.1)]

a_xticks = [-30,-20,-10,0,10,20,30]; a_yticks = [-40,-30,-20,-10,0,10,20]
b_xticks = [-30,-20,-10,0,10,20];    b_yticks = [-20,-10,0,10,20,30]
c_xticks = [-30,-20,-10,0,10,20,30]; c_yticks = [-20,-10,0,10,20,30]
d_xticks = [-30,-20,-10,0,10,20,30]; d_yticks = [-30,-20,-10,0,10,20,30]
e_xticks = [-30,-20,-10,0,10,20,30]; e_yticks = [-30,-20,-10,0,10,20]
f_xticks = [-30,-20,-10,0,10,20];    f_yticks = [-30,-20,-10,0,10,20,30]

panels = [
 dict(data=[a_nor,a_irf,a_orf,a_rbf], box=(119,809,34.5,721.7), xlim=(-32.49,31.05), ylim=(-40.6,28.66), xt=a_xticks, yt=a_yticks,
      leg=(963.5,418.5), mx=841, my=(455,532,605,674.5), tx=(861.6,852.6), cap=("(a)","the initial samples+ResNet",114,201,837)),
 dict(data=[b_nor,b_irf,b_orf,b_rbf], box=(1065,1760,36,727), xlim=(-32.78,27.52), ylim=(-26.16,33.46), xt=b_xticks, yt=b_yticks,
      leg=(1912,424), mx=1790, my=(461,537,610,679), tx=(1809,1800), cap=("(b)","WGANGP+CNN",1176,1268,837)),
 dict(data=[c_nor,c_irf,c_orf,c_rbf], box=(2016,2710,35,726), xlim=(-32.03,35.71), ylim=(-27.79,30.32), xt=c_xticks, yt=c_yticks,
      leg=(2865,423.5), mx=2742.6, my=(461,537.6,610,679.5), tx=(2762,2753), cap=("(c)","WGANGP+CBAM-ResNet",2019,2105,840)),
 dict(data=[d_nor,d_irf,d_orf,d_rbf], box=(112,806,910,1600), xlim=(-31.21,34.14), ylim=(-35.28,31.93), xt=d_xticks, yt=d_yticks,
      leg=(960.5,1297), mx=837.6, my=(1334,1410,1483.5,1552), tx=(858,849), cap=("(d)","SN-DCGAN+ResNet",162,257,1718)),
 dict(data=[e_nor,e_irf,e_orf,e_rbf], box=(1072,1766,912,1603), xlim=(-31.13,33.76), ylim=(-31.8,28.83), xt=e_xticks, yt=e_yticks,
      leg=(1920,1299.6), mx=1797, my=(1336.5,1413,1486.5,1555.6), tx=(1818,1809), cap=("(e)","SN-DCGAN+CBAM-ResNet",1033,1122,1718)),
 dict(data=[f_nor,f_irf,f_orf,f_rbf], box=(2016,2710,920,1611), xlim=(-31.56,23.85), ylim=(-30.88,32.05), xt=f_xticks, yt=f_yticks,
      leg=(2865,1308), mx=2742.6, my=(1345.6,1422,1495,1564), tx=(2762,2753), cap=("(f)","IDCGAN+CBAM-ResNet",2039,2118,1718)),
]

stray_labels = [-30, -20, -10]
stray_x = [198, 304, 420]

def fmt(v):
    return f"\u2212\u2009{abs(v)}" if v < 0 else f"{v}"

fig = plt.figure(figsize=(W/100, H/100), dpi=100, facecolor="white")
ov = fig.add_axes([0, 0, 1, 1], zorder=5)
ov.set_xlim(0, W); ov.set_ylim(H, 0); ov.axis("off"); ov.patch.set_alpha(0)

for p in panels:
    L, R, T, B = p["box"]
    ax = fig.add_axes([L/W, 1-B/H, (R-L)/W, (B-T)/H])
    for pts, col in zip(p["data"], class_colors):
        ax.scatter([q[0] for q in pts], [q[1] for q in pts], s=84, c=col, linewidths=0)
    ax.set_xlim(*p["xlim"]); ax.set_ylim(*p["ylim"])
    ax.set_xticks(p["xt"]); ax.set_yticks(p["yt"])
    ax.set_xticklabels([fmt(v) for v in p["xt"]])
    ax.set_yticklabels([fmt(v) for v in p["yt"]])
    ax.tick_params(axis="x", labelsize=29.5, length=4.5, width=1.1, color="#333333", pad=8)
    ax.tick_params(axis="y", labelsize=29.5, length=4.5, width=1.1, color="#333333", pad=16)
    for s in ax.spines.values():
        s.set_linewidth(1.3); s.set_color("#333333")
    lx, ly = p["leg"]
    ov.add_patch(Rectangle((R, ly), lx-R, B-ly, fc="white", ec="#a0a0a0", lw=1.2))
    for i, (name, col, y) in enumerate(zip(class_names, class_colors, p["my"])):
        ov.plot([p["mx"]], [y], "o", ms=14.5, mfc=col, mec="none")
        ov.text(p["tx"][0 if i < 2 else 1], y + 4, name, fontsize=33, va="center", ha="left", color="black")
    bold, txt, bx, tx_, base = p["cap"]
    ov.text(bx, base, bold, fontsize=42, fontweight="bold", va="baseline", ha="left")
    ov.text(tx_, base, txt, fontsize=39, va="baseline", ha="left")

for lab, x in zip(stray_labels, stray_x):
    ov.text(x, 1852, fmt(lab), fontsize=29.5, va="center", ha="center")

fig.savefig("out.png", dpi=100, facecolor="white")
